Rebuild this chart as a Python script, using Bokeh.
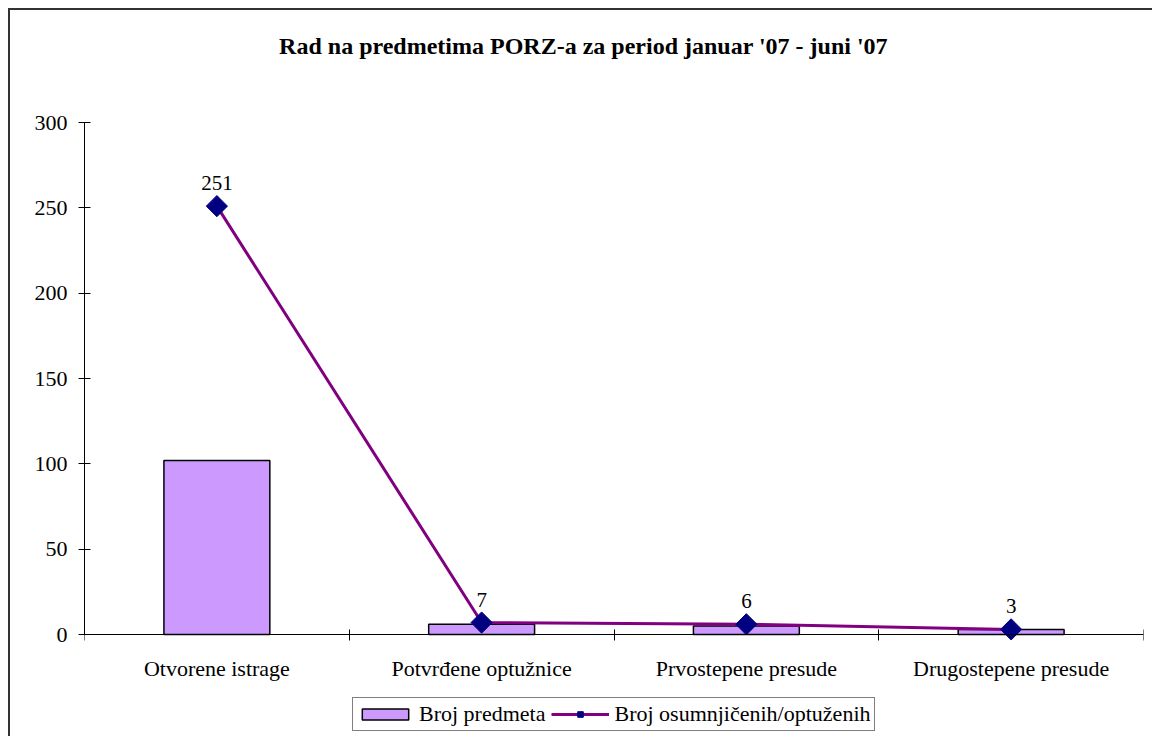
import math
from bokeh.plotting import figure
from bokeh.models import (Range1d, FixedTicker, Legend, LegendItem, Label,
                          ColumnDataSource, InlineStyleSheet)
from bokeh.core.properties import value
from bokeh.embed import file_html
from bokeh.resources import INLINE

title_text = "Rad na predmetima PORZ-a za period januar '07 - juni '07"
categories = ["Otvorene istrage", "Potvrđene optužnice", "Prvostepene presude", "Drugostepene presude"]
broj_predmeta = [102, 6, 5, 3]
broj_osumnjicenih = [251, 7, 6, 3]
y_ticks = [0, 50, 100, 150, 200, 250, 300]
series_names = ["Broj predmeta", "Broj osumnjičenih/optuženih"]

FONT = "Liberation Serif"

# layout: frame extends beyond the value axis so title / legend live inside it
PX_PER_UNIT = 512 / 300.0
Y_TOP = y_ticks[-1] + 112 / PX_PER_UNIT
Y_BOTTOM = y_ticks[0] - 104 / PX_PER_UNIT

x = [i + 0.5 for i in range(len(categories))]
src = ColumnDataSource(dict(
    x=x, bars=broj_predmeta, pts=broj_osumnjicenih,
    lbl=[str(v) for v in broj_osumnjicenih],
))

p = figure(width=1144, height=728, title=None,
           x_range=Range1d(0, len(categories)), y_range=Range1d(Y_BOTTOM, Y_TOP),
           output_backend="svg", toolbar_location=None,
           min_border_left=74, min_border_right=11, min_border_top=0, min_border_bottom=0)
p.xgrid.visible = False
p.ygrid.visible = False
p.outline_line_color = None
p.background_fill_color = "white"
p.border_fill_color = "white"

# x axis (drawn at value 0)
xa = p.xaxis[0]
xa.fixed_location = 0
xa.ticker = FixedTicker(ticks=x, minor_ticks=list(range(len(categories) + 1)))
xa.major_label_overrides = {xi: c for xi, c in zip(x, categories)}
xa.major_tick_line_color = None
xa.major_tick_out = 0
xa.major_tick_in = 0
xa.minor_tick_line_color = "black"
xa.minor_tick_out = 6
xa.minor_tick_in = 5
xa.major_label_standoff = 15
xa.axis_line_color = "black"
xa.major_label_text_font = FONT
xa.major_label_text_font_size = "22px"
xa.major_label_text_color = "black"

# y axis
ya = p.yaxis[0]
ya.bounds = (y_ticks[0], y_ticks[-1])
ya.ticker = FixedTicker(ticks=y_ticks)
ya.minor_tick_line_color = None
ya.major_tick_out = 6
ya.major_tick_in = 6
ya.major_tick_line_color = "black"
ya.axis_line_color = "black"
ya.major_label_standoff = 11
ya.major_label_text_font = FONT
ya.major_label_text_font_size = "22px"
ya.major_label_text_color = "black"

bars = p.vbar(x="x", top="bars", width=0.4, source=src,
              fill_color="#CC99FF", line_color="black", line_width=1.5)
ln = p.line(x="x", y="pts", source=src, line_color="#800080", line_width=3)
sc = p.scatter(x="x", y="pts", source=src, marker="square", angle=math.pi / 4, size=15,
               fill_color="#000080", line_color="#000080")
p.text(x="x", y="pts", text="lbl", source=src, y_offset=-16,
       text_align="center", text_baseline="bottom",
       text_font=value(FONT), text_font_size="21px", text_color="black")

title = Label(x=1.885, y=y_ticks[-1] + (122 - 45) / PX_PER_UNIT, text=title_text,
              text_font=FONT, text_font_size="24px", text_font_style="bold",
              text_align="center", text_baseline="middle", text_color="black")
p.add_layout(title)

legend = Legend(items=[LegendItem(label=series_names[0], renderers=[bars]),
                       LegendItem(label=series_names[1], renderers=[ln, sc])],
                orientation="horizontal", location=(268, 7),
                border_line_color="black", border_line_width=1,
                padding=3, spacing=6, margin=0,
                glyph_width=58, glyph_height=14, label_standoff=5,
                label_text_font=FONT, label_text_font_size="22px",
                label_text_color="black", background_fill_color="white",
                background_fill_alpha=1)
p.add_layout(legend)

p.stylesheets = [InlineStyleSheet(css=":host { margin: 8px 0 0 8px; border-left: 2px solid #333333; border-top: 2px solid #333333; }")]

open("out.html", "w").write(file_html(p, INLINE))
